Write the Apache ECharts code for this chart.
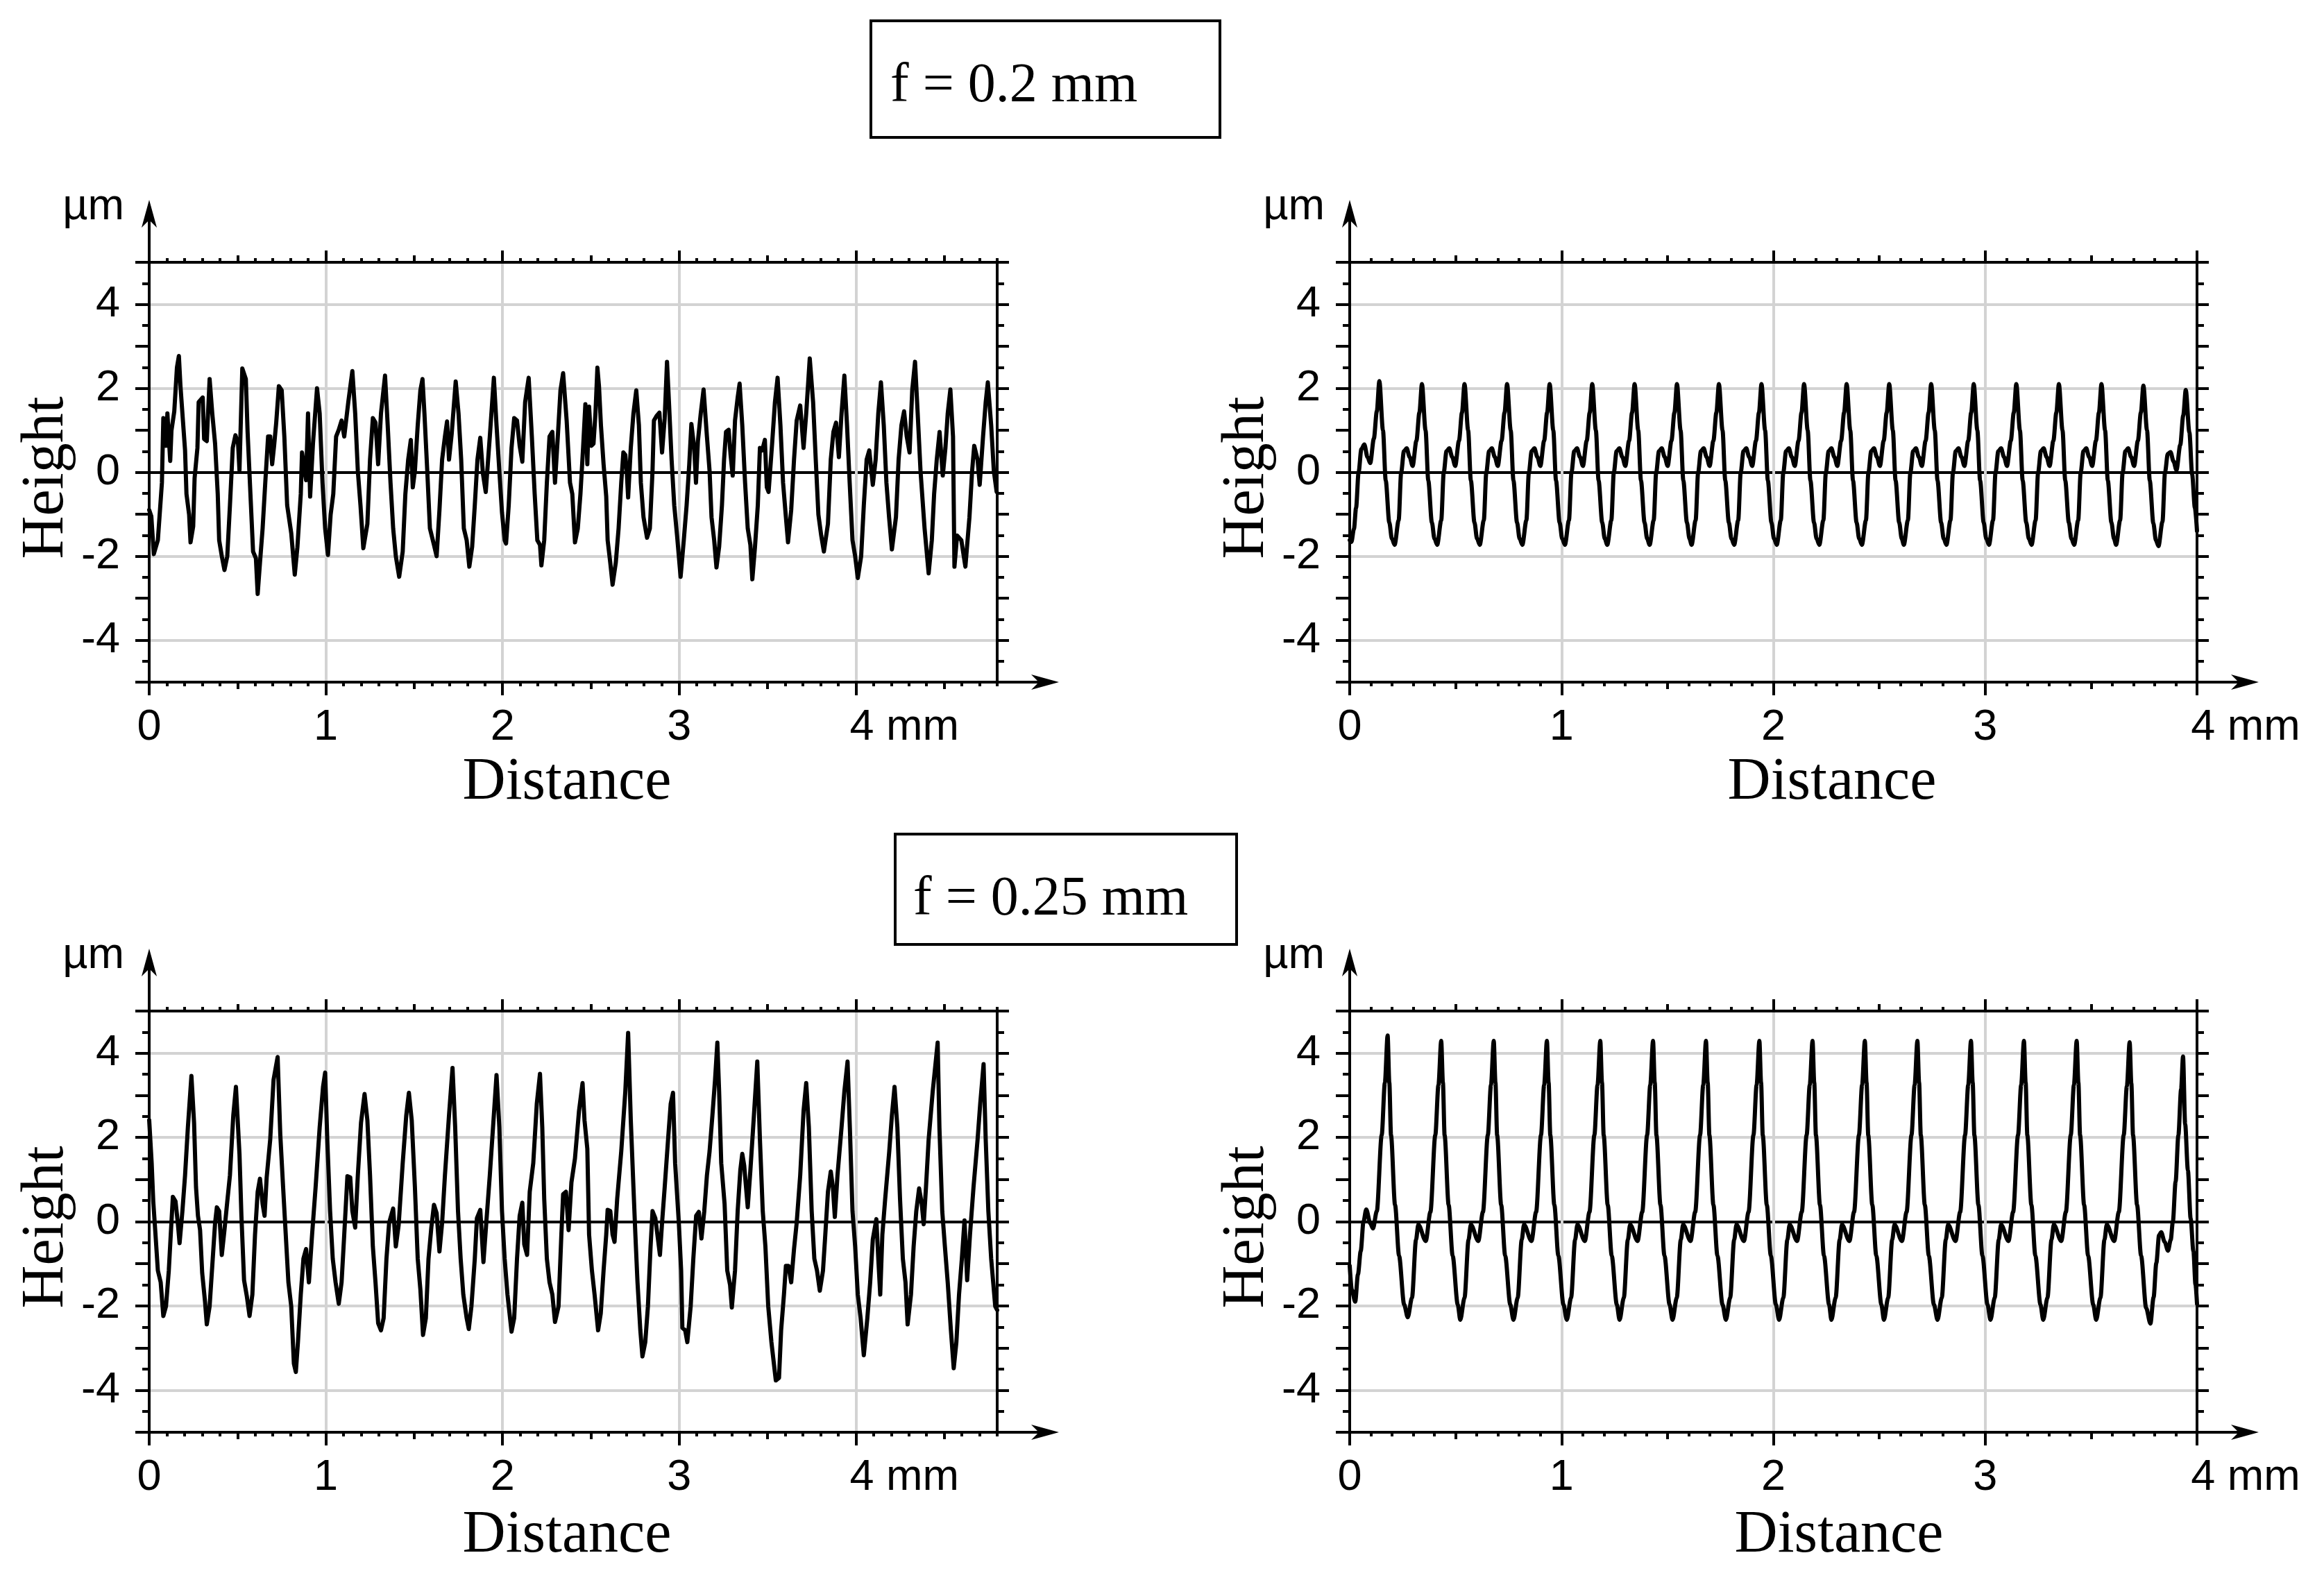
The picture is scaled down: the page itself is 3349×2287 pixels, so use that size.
<!DOCTYPE html>
<html>
<head>
<meta charset="utf-8">
<script src="https://cdn.jsdelivr.net/npm/echarts@6.0.0/dist/echarts.min.js"></script>
<style>
html,body{margin:0;padding:0;background:#fff;}
#c{width:3349px;height:2287px;}
</style>
</head>
<body>
<div id="c"></div>
<script>
// ---------------- data (x in mm, height in µm) ----------------
// f = 0.2 mm, measured profile (top left)
const tlData = [
[0,-0.90],[0.012,-1.05],[0.026,-1.95],[0.049,-1.62],[0.072,-0.25],[0.080,1.29],[0.095,0.63],[0.103,1.40],[0.119,0.27],[0.126,0.99],
[0.142,1.45],[0.157,2.49],[0.168,2.77],[0.177,2.05],[0.188,1.40],[0.203,0.52],[0.211,-0.52],[0.226,-1.01],[0.234,-1.67],[0.249,-1.29],
[0.257,-0.14],[0.273,0.58],[0.280,1.67],[0.303,1.78],[0.311,0.79],[0.326,0.74],[0.342,2.22],[0.357,1.40],[0.373,0.68],[0.388,-0.52],
[0.396,-1.62],[0.411,-2.00],[0.426,-2.33],[0.442,-2.00],[0.457,-0.79],[0.473,0.58],[0.488,0.88],[0.503,0.68],[0.511,0.05],[0.527,2.47],
[0.547,2.22],[0.557,0.96],[0.573,-0.52],[0.588,-1.89],[0.604,-2.05],[0.614,-2.90],[0.627,-2.16],[0.642,-1.34],[0.657,-0.25],[0.673,0.85],
[0.685,0.85],[0.696,0.19],[0.707,0.63],[0.719,1.18],[0.734,2.05],[0.750,1.95],[0.765,0.85],[0.781,-0.79],[0.804,-1.45],[0.824,-2.44],
[0.839,-1.78],[0.858,-0.52],[0.865,0.47],[0.888,-0.19],[0.899,1.40],[0.911,-0.58],[0.927,0.68],[0.950,2.00],[0.965,1.40],[0.981,-0.25],
[0.996,-1.34],[1.012,-1.97],[1.027,-1.01],[1.042,-0.52],[1.058,0.85],[1.073,1.01],[1.089,1.23],[1.104,0.85],[1.127,1.67],[1.150,2.41],
[1.166,1.40],[1.181,0.03],[1.196,-0.79],[1.212,-1.81],[1.235,-1.23],[1.250,0.30],[1.266,1.29],[1.281,1.18],[1.296,0.19],[1.312,1.40],
[1.335,2.30],[1.350,1.12],[1.366,-0.25],[1.381,-1.34],[1.396,-2.00],[1.415,-2.49],[1.435,-1.89],[1.450,-0.52],[1.466,0.30],[1.481,0.77],
[1.492,-0.36],[1.504,0.03],[1.520,1.12],[1.535,1.95],[1.547,2.22],[1.558,1.40],[1.574,0.03],[1.589,-1.34],[1.612,-1.73],[1.627,-2.00],
[1.643,-0.90],[1.658,0.30],[1.674,0.85],[1.686,1.21],[1.697,0.30],[1.712,0.90],[1.735,2.16],[1.751,1.40],[1.766,0.30],[1.781,-1.34],
[1.797,-1.62],[1.812,-2.25],[1.828,-1.78],[1.843,-0.79],[1.858,0.30],[1.874,0.82],[1.889,-0.03],[1.905,-0.47],[1.928,0.85],[1.951,2.25],
[1.966,1.12],[1.982,0.03],[1.997,-0.96],[2.012,-1.62],[2.020,-1.70],[2.035,-0.79],[2.051,0.58],[2.066,1.29],[2.082,1.23],[2.097,0.63],
[2.112,0.25],[2.128,1.67],[2.148,2.25],[2.166,0.85],[2.182,-0.52],[2.197,-1.62],[2.212,-1.73],[2.220,-2.22],[2.236,-1.62],[2.251,-0.25],
[2.266,0.85],[2.282,0.96],[2.297,-0.25],[2.313,0.85],[2.328,1.95],[2.343,2.36],[2.363,1.23],[2.382,-0.25],
[2.395,-0.52],[2.410,-1.67],[2.426,-1.34],[2.441,-0.52],[2.456,0.58],[2.469,1.62],[2.480,0.19],[2.490,1.56],[2.503,0.63],[2.515,0.68],
[2.526,1.40],[2.537,2.49],[2.546,2.05],[2.557,1.12],[2.572,0.19],[2.587,-0.58],[2.595,-1.62],[2.610,-2.16],[2.623,-2.68],[2.641,-2.16],
[2.657,-1.34],[2.672,-0.25],[2.684,0.47],[2.695,0.41],[2.703,0.03],[2.711,-0.60],[2.726,0.58],[2.741,1.40],[2.757,1.95],[2.772,1.12],
[2.783,-0.25],[2.798,-1.07],[2.818,-1.56],[2.834,-1.34],[2.849,0.03],[2.857,1.23],[2.872,1.34],[2.888,1.42],[2.903,0.47],[2.918,1.29],
[2.931,2.63],[2.942,1.67],[2.957,0.30],[2.972,-0.79],[2.988,-1.51],[3.008,-2.49],[3.026,-1.62],[3.042,-0.79],[3.057,0.19],[3.069,1.15],
[3.085,0.58],[3.095,-0.25],[3.106,0.74],[3.122,1.40],[3.138,1.97],[3.157,0.85],[3.172,0.03],[3.183,-1.07],[3.198,-1.62],[3.211,-2.27],
[3.226,-1.78],[3.242,-0.79],[3.254,0.30],[3.265,0.96],[3.280,1.01],[3.291,0.41],[3.303,-0.08],[3.316,1.23],[3.331,1.78],[3.342,2.11],
[3.357,1.12],[3.373,-0.25],[3.388,-1.34],[3.403,-1.73],[3.414,-2.55],[3.429,-1.78],[3.445,-0.79],[3.457,0.58],[3.470,0.52],[3.485,0.77],
[3.496,-0.36],[3.506,-0.47],[3.526,0.68],[3.542,1.67],[3.557,2.25],[3.573,1.12],[3.588,-0.25],[3.604,-1.07],[3.616,-1.67],[3.634,-0.90],
[3.650,0.30],[3.665,1.23],[3.685,1.59],[3.704,0.58],[3.719,1.40],[3.739,2.71],[3.758,1.67],[3.773,0.30],[3.788,-1.01],[3.804,-1.51],
[3.819,-1.89],[3.842,-1.23],[3.858,0.30],[3.873,0.96],[3.888,1.18],[3.904,0.36],[3.919,1.40],[3.935,2.30],[3.950,1.12],[3.965,-0.25],
[3.981,-1.62],[3.996,-2.00],[4.011,-2.52],[4.030,-2.00],[4.045,-0.79],[4.061,0.30],[4.076,0.52],[4.096,-0.30],[4.112,0.30],[4.127,1.40],
[4.142,2.14],[4.158,1.12],[4.173,-0.25],[4.188,-1.07],[4.204,-1.84],[4.227,-1.07],[4.242,0.30],[4.258,1.12],[4.273,1.45],[4.288,0.85],
[4.304,0.47],[4.319,1.95],[4.335,2.63],[4.350,1.40],[4.366,0.03],[4.389,-1.34],[4.412,-2.41],[4.430,-1.62],[4.443,-0.52],[4.458,0.30],
[4.474,0.96],[4.492,-0.08],[4.507,0.58],[4.520,1.40],[4.535,1.97],[4.550,0.85],[4.558,-2.25],[4.573,-1.51],[4.597,-1.62],[4.620,-2.25],
[4.643,-1.07],[4.658,0.03],[4.670,0.63],[4.689,0.30],[4.701,-0.30],[4.720,0.85],[4.735,1.67],[4.747,2.14],[4.766,1.12],[4.781,0.03],
[4.797,-0.47]
];

// f = 0.2 mm, simulated profile (top right)
const trData = [
[0,-1.62],[0.008,-1.66],[0.020,-1.35],[0.030,-0.85],[0.042,0.00],[0.055,0.55],[0.069,0.66],[0.084,0.36],[0.097,0.22],[0.114,0.80],[0.128,1.45],[0.140,2.17],[0.157,1.00],[0.170,-0.20],[0.187,-1.20],[0.199,-1.58],
[0.212,-1.73],[0.231,-1.15],[0.243,0],[0.256,0.50],[0.269,0.57],[0.283,0.36],[0.297,0.15],[0.315,0.75],[0.329,1.42],[0.341,2.10],[0.358,1.00],[0.371,-0.20],[0.388,-1.20],[0.400,-1.58],
[0.413,-1.73],[0.432,-1.15],[0.444,0],[0.457,0.50],[0.470,0.57],[0.484,0.36],[0.498,0.15],[0.516,0.75],[0.530,1.42],[0.542,2.10],[0.559,1.00],[0.572,-0.20],[0.589,-1.20],[0.601,-1.58],
[0.614,-1.73],[0.633,-1.15],[0.645,0],[0.658,0.50],[0.671,0.57],[0.685,0.36],[0.699,0.15],[0.717,0.75],[0.731,1.42],[0.743,2.10],[0.760,1.00],[0.773,-0.20],[0.790,-1.20],[0.802,-1.58],
[0.815,-1.73],[0.834,-1.15],[0.846,0],[0.859,0.50],[0.872,0.57],[0.886,0.36],[0.900,0.15],[0.918,0.75],[0.932,1.42],[0.944,2.10],[0.961,1.00],[0.974,-0.20],[0.991,-1.20],[1.003,-1.58],
[1.016,-1.73],[1.035,-1.15],[1.047,0],[1.060,0.50],[1.073,0.57],[1.087,0.36],[1.101,0.15],[1.119,0.75],[1.133,1.42],[1.145,2.10],[1.162,1.00],[1.175,-0.20],[1.192,-1.20],[1.204,-1.58],
[1.216,-1.73],[1.235,-1.15],[1.247,0],[1.260,0.50],[1.273,0.57],[1.287,0.36],[1.301,0.15],[1.319,0.75],[1.333,1.42],[1.345,2.10],[1.362,1.00],[1.375,-0.20],[1.392,-1.20],[1.404,-1.58],
[1.416,-1.73],[1.435,-1.15],[1.447,0],[1.460,0.50],[1.473,0.57],[1.487,0.36],[1.501,0.15],[1.519,0.75],[1.533,1.42],[1.545,2.10],[1.562,1.00],[1.575,-0.20],[1.592,-1.20],[1.604,-1.58],
[1.614,-1.73],[1.633,-1.15],[1.645,0],[1.658,0.50],[1.671,0.57],[1.685,0.36],[1.699,0.15],[1.717,0.75],[1.731,1.42],[1.743,2.10],[1.760,1.00],[1.773,-0.20],[1.790,-1.20],[1.802,-1.58],
[1.815,-1.73],[1.834,-1.15],[1.846,0],[1.859,0.50],[1.872,0.57],[1.886,0.36],[1.900,0.15],[1.918,0.75],[1.932,1.42],[1.944,2.10],[1.961,1.00],[1.974,-0.20],[1.991,-1.20],[2.003,-1.58],
[2.016,-1.73],[2.035,-1.15],[2.047,0],[2.060,0.50],[2.073,0.57],[2.087,0.36],[2.101,0.15],[2.119,0.75],[2.133,1.42],[2.145,2.10],[2.162,1.00],[2.175,-0.20],[2.192,-1.20],[2.204,-1.58],
[2.217,-1.73],[2.236,-1.15],[2.248,0],[2.261,0.50],[2.274,0.57],[2.288,0.36],[2.302,0.15],[2.320,0.75],[2.334,1.42],[2.346,2.10],[2.363,1.00],[2.376,-0.20],[2.393,-1.20],[2.405,-1.58],
[2.418,-1.73],[2.437,-1.15],[2.449,0],[2.462,0.50],[2.475,0.57],[2.489,0.36],[2.503,0.15],[2.521,0.75],[2.535,1.42],[2.547,2.10],[2.564,1.00],[2.577,-0.20],[2.594,-1.20],[2.606,-1.58],
[2.616,-1.73],[2.635,-1.15],[2.647,0],[2.660,0.50],[2.673,0.57],[2.687,0.36],[2.701,0.15],[2.719,0.75],[2.733,1.42],[2.745,2.10],[2.762,1.00],[2.775,-0.20],[2.792,-1.20],[2.804,-1.58],
[2.817,-1.73],[2.836,-1.15],[2.848,0],[2.861,0.50],[2.874,0.57],[2.888,0.36],[2.902,0.15],[2.920,0.75],[2.934,1.42],[2.946,2.10],[2.963,1.00],[2.976,-0.20],[2.993,-1.20],[3.005,-1.58],
[3.018,-1.73],[3.037,-1.15],[3.049,0],[3.062,0.50],[3.075,0.57],[3.089,0.36],[3.103,0.15],[3.121,0.75],[3.135,1.42],[3.147,2.10],[3.164,1.00],[3.177,-0.20],[3.194,-1.20],[3.206,-1.58],
[3.219,-1.73],[3.238,-1.15],[3.250,0],[3.263,0.50],[3.276,0.57],[3.290,0.36],[3.304,0.15],[3.322,0.75],[3.336,1.42],[3.348,2.10],[3.365,1.00],[3.378,-0.20],[3.395,-1.20],[3.407,-1.58],
[3.420,-1.73],[3.439,-1.15],[3.451,0],[3.464,0.50],[3.477,0.57],[3.491,0.36],[3.505,0.15],[3.523,0.75],[3.537,1.42],[3.549,2.10],[3.566,1.00],[3.579,-0.20],[3.596,-1.20],[3.608,-1.58],
[3.618,-1.73],[3.637,-1.15],[3.649,0],[3.662,0.50],[3.675,0.57],[3.689,0.36],[3.703,0.15],[3.721,0.75],[3.735,1.42],[3.747,2.06],[3.764,1.00],[3.777,-0.20],[3.794,-1.22],[3.806,-1.62],
[3.818,-1.76],[3.837,-1.18],[3.849,0],[3.862,0.44],[3.875,0.48],[3.889,0.26],[3.903,0.05],[3.921,0.65],[3.935,1.35],[3.947,1.96],[3.964,0.95],[3.977,-0.05],[3.990,-0.85],[4.000,-1.40]
];

// f = 0.25 mm, measured profile (bottom left)
const blData = [
[0,2.41],[0.014,1.39],[0.023,0.48],[0.034,-0.20],[0.049,-1.16],[0.065,-1.44],[0.080,-2.24],[0.095,-2.01],[0.111,-1.16],[0.122,-0.31],
[0.134,0.59],[0.149,0.48],[0.162,-0.03],[0.172,-0.51],[0.188,0.25],[0.203,1.10],[0.219,2.24],[0.239,3.46],[0.254,2.35],[0.265,0.82],
[0.276,0.14],[0.288,-0.20],[0.300,-1.22],[0.316,-1.90],[0.326,-2.44],[0.342,-2.01],[0.357,-1.05],[0.373,-0.03],[0.383,0.34],[0.396,0.25],
[0.411,-0.79],[0.426,-0.20],[0.442,0.48],[0.457,1.10],[0.476,2.52],[0.491,3.20],[0.511,1.61],[0.522,0.14],[0.537,-1.39],[0.553,-1.78],
[0.568,-2.24],[0.584,-1.73],[0.599,-0.31],[0.614,0.71],[0.627,1.02],[0.642,0.42],[0.653,0.14],[0.665,1.05],[0.685,1.95],[0.704,3.37],
[0.727,3.91],[0.742,2.07],[0.758,0.82],[0.773,-0.31],[0.788,-1.44],[0.804,-2.01],[0.819,-3.37],[0.830,-3.57],[0.842,-2.86],[0.858,-1.73],
[0.873,-0.88],[0.888,-0.65],[0.904,-1.44],[0.922,-0.31],[0.942,0.82],[0.965,2.24],[0.984,3.20],[0.996,3.54],[1.008,1.95],[1.024,0.25],
[1.039,-0.88],[1.055,-1.44],[1.073,-1.95],[1.089,-1.44],[1.104,-0.31],[1.122,1.08],[1.138,1.05],[1.150,0.25],[1.166,-0.14],[1.181,1.10],
[1.199,2.35],[1.219,3.03],[1.235,2.41],[1.250,1.10],[1.266,-0.59],[1.281,-1.44],[1.296,-2.41],[1.312,-2.58],[1.327,-2.29],[1.343,-0.88],
[1.358,-0.03],[1.381,0.31],[1.396,-0.59],[1.412,-0.08],[1.435,1.39],[1.455,2.52],[1.470,3.06],[1.486,2.41],[1.504,0.82],[1.520,-0.88],
[1.535,-1.61],[1.550,-2.69],[1.566,-2.29],[1.581,-0.88],[1.597,-0.14],[1.612,0.40],[1.627,0.20],[1.643,-0.71],[1.658,-0.03],[1.674,1.10],
[1.697,2.52],[1.717,3.65],[1.732,2.24],[1.748,0.25],[1.763,-0.88],[1.778,-1.73],[1.797,-2.29],[1.809,-2.55],[1.824,-2.01],[1.843,-0.88],
[1.855,0.08],[1.874,0.28],[1.892,-0.96],[1.908,-0.03],[1.928,1.10],[1.948,2.35],[1.966,3.48],[1.982,2.24],[1.997,0.25],[2.012,-0.88],
[2.028,-1.73],[2.051,-2.61],[2.066,-2.29],[2.082,-0.88],[2.097,0.14],[2.112,0.45],[2.123,-0.54],[2.139,-0.79],[2.154,0.71],[2.174,1.39],
[2.194,2.80],[2.212,3.51],[2.225,2.24],[2.236,0.54],[2.251,-0.88],[2.266,-1.44],[2.282,-1.73],[2.297,-2.38],[2.317,-2.01],[2.333,-0.31],
[2.343,0.65],[2.359,0.71],[2.374,-0.20],[2.390,0.93],
[2.410,1.50],[2.433,2.63],[2.453,3.29],[2.464,2.41],[2.480,1.73],[2.490,-0.31],[2.506,-1.16],[2.521,-1.73],[2.541,-2.58],[2.556,-2.18],
[2.572,-1.16],[2.587,-0.31],[2.595,0.28],[2.610,0.25],[2.623,-0.31],[2.634,-0.48],[2.649,0.54],[2.672,1.67],[2.695,3.09],[2.711,4.48],
[2.726,2.41],[2.741,0.82],[2.752,-0.31],[2.764,-1.44],[2.780,-2.58],[2.792,-3.20],[2.808,-2.86],[2.823,-2.01],[2.838,-0.59],[2.849,0.25],
[2.865,0.08],[2.880,-0.42],[2.891,-0.79],[2.903,-0.03],[2.918,0.82],[2.937,1.95],[2.952,2.80],[2.965,3.06],[2.977,1.39],[2.998,-0.03],
[3.011,-1.16],[3.018,-2.52],[3.034,-2.58],[3.046,-2.86],[3.065,-2.01],[3.080,-0.88],[3.096,0.14],[3.111,0.23],[3.126,-0.40],[3.142,0.25],
[3.157,1.10],[3.172,1.67],[3.188,2.52],[3.203,3.37],[3.216,4.25],[3.226,3.09],[3.238,1.39],[3.257,0.42],[3.272,-1.16],[3.288,-1.50],
[3.298,-2.04],[3.316,-1.16],[3.331,0.25],[3.346,1.22],[3.357,1.61],[3.368,1.33],[3.388,0.34],[3.403,1.22],[3.423,2.52],[3.442,3.80],
[3.457,1.95],[3.473,0.25],[3.488,-0.59],[3.504,-2.01],[3.522,-2.86],[3.547,-3.77],[3.565,-3.71],[3.577,-2.58],[3.593,-1.73],[3.604,-1.05],
[3.619,-1.05],[3.634,-1.44],[3.650,-0.65],[3.665,-0.03],[3.685,1.10],[3.704,2.63],[3.719,3.29],[3.734,2.24],[3.750,0.25],[3.765,-0.88],
[3.780,-1.16],[3.796,-1.64],[3.814,-1.16],[3.827,-0.31],[3.842,0.71],[3.858,1.19],[3.870,0.82],[3.881,0.11],[3.896,1.10],[3.919,2.24],
[3.935,3.09],[3.953,3.80],[3.966,2.24],[3.981,0.25],[3.996,-0.59],[4.011,-1.73],[4.027,-2.29],[4.045,-3.17],[4.065,-2.29],[4.081,-1.44],
[4.096,-0.42],[4.116,0.06],[4.127,-0.88],[4.138,-1.73],[4.150,-0.31],[4.166,0.54],[4.189,1.67],[4.204,2.52],[4.219,3.20],[4.235,2.24],
[4.250,0.54],[4.266,-0.88],[4.281,-1.44],[4.293,-2.44],[4.312,-1.73],[4.327,-0.59],[4.342,0.25],[4.358,0.79],[4.373,0.42],[4.384,-0.06],
[4.397,0.82],[4.412,1.95],[4.435,3.09],[4.463,4.25],[4.473,2.24],[4.489,0.25],[4.504,-0.59],[4.520,-1.44],[4.538,-2.58],[4.554,-3.48],
[4.569,-2.86],[4.584,-1.73],[4.600,-0.88],[4.615,0.03],[4.630,-1.39],[4.646,-0.31],[4.666,0.82],[4.689,1.95],[4.704,2.80],[4.723,3.74],
[4.735,1.95],[4.750,0.25],[4.766,-0.88],[4.789,-2.01],[4.800,-2.10]
];

// f = 0.25 mm, simulated profile (bottom right)
const brData = [
[0,-1.05],[0.010,-1.62],[0.026,-1.90],[0.039,-1.25],[0.052,-0.70],[0.065,0.00],[0.078,0.29],[0.097,-0.04],[0.110,-0.16],[0.128,0.25],[0.151,2.05],[0.166,3.30],[0.179,4.42],[0.187,3.30],[0.195,2.05],[0.214,0.40],[0.233,-0.81],[0.257,-1.97],
[0.274,-2.27],[0.294,-1.81],[0.313,-0.43],[0.324,-0.07],[0.359,-0.46],[0.381,0.23],[0.404,2.05],[0.419,3.25],[0.432,4.29],[0.440,3.30],[0.448,2.05],[0.467,0.40],[0.486,-0.81],[0.510,-1.97],
[0.522,-2.33],[0.542,-1.81],[0.561,-0.43],[0.572,-0.07],[0.607,-0.46],[0.629,0.23],[0.652,2.05],[0.667,3.25],[0.680,4.29],[0.688,3.30],[0.696,2.05],[0.715,0.40],[0.734,-0.81],[0.758,-1.97],
[0.773,-2.33],[0.793,-1.81],[0.812,-0.43],[0.823,-0.07],[0.858,-0.46],[0.880,0.23],[0.903,2.05],[0.918,3.25],[0.931,4.29],[0.939,3.30],[0.947,2.05],[0.966,0.40],[0.985,-0.81],[1.009,-1.97],
[1.025,-2.33],[1.045,-1.81],[1.064,-0.43],[1.075,-0.07],[1.110,-0.46],[1.132,0.23],[1.155,2.05],[1.170,3.25],[1.183,4.29],[1.191,3.30],[1.199,2.05],[1.218,0.40],[1.237,-0.81],[1.261,-1.97],
[1.274,-2.33],[1.294,-1.81],[1.313,-0.43],[1.324,-0.07],[1.359,-0.46],[1.381,0.23],[1.404,2.05],[1.419,3.25],[1.432,4.29],[1.440,3.30],[1.448,2.05],[1.467,0.40],[1.486,-0.81],[1.510,-1.97],
[1.524,-2.33],[1.544,-1.81],[1.563,-0.43],[1.574,-0.07],[1.609,-0.46],[1.631,0.23],[1.654,2.05],[1.669,3.25],[1.682,4.29],[1.690,3.30],[1.698,2.05],[1.717,0.40],[1.736,-0.81],[1.760,-1.97],
[1.776,-2.33],[1.796,-1.81],[1.815,-0.43],[1.826,-0.07],[1.861,-0.46],[1.883,0.23],[1.906,2.05],[1.921,3.25],[1.934,4.29],[1.942,3.30],[1.950,2.05],[1.969,0.40],[1.988,-0.81],[2.012,-1.97],
[2.027,-2.33],[2.047,-1.81],[2.066,-0.43],[2.077,-0.07],[2.112,-0.46],[2.134,0.23],[2.157,2.05],[2.172,3.25],[2.185,4.29],[2.193,3.30],[2.201,2.05],[2.220,0.40],[2.239,-0.81],[2.263,-1.97],
[2.274,-2.33],[2.294,-1.81],[2.313,-0.43],[2.324,-0.07],[2.359,-0.46],[2.381,0.23],[2.404,2.05],[2.419,3.25],[2.432,4.29],[2.440,3.30],[2.448,2.05],[2.467,0.40],[2.486,-0.81],[2.510,-1.97],
[2.522,-2.33],[2.542,-1.81],[2.561,-0.43],[2.572,-0.07],[2.607,-0.46],[2.629,0.23],[2.652,2.05],[2.667,3.25],[2.680,4.29],[2.688,3.30],[2.696,2.05],[2.715,0.40],[2.734,-0.81],[2.758,-1.97],
[2.775,-2.33],[2.795,-1.81],[2.814,-0.43],[2.825,-0.07],[2.860,-0.46],[2.882,0.23],[2.905,2.05],[2.920,3.25],[2.933,4.29],[2.941,3.30],[2.949,2.05],[2.968,0.40],[2.987,-0.81],[3.011,-1.97],
[3.025,-2.33],[3.045,-1.81],[3.064,-0.43],[3.075,-0.07],[3.110,-0.46],[3.132,0.23],[3.155,2.05],[3.170,3.25],[3.183,4.29],[3.191,3.30],[3.199,2.05],[3.218,0.40],[3.237,-0.81],[3.261,-1.97],
[3.274,-2.33],[3.294,-1.81],[3.313,-0.43],[3.324,-0.07],[3.359,-0.46],[3.381,0.23],[3.404,2.05],[3.419,3.25],[3.432,4.29],[3.440,3.30],[3.448,2.05],[3.467,0.40],[3.486,-0.81],[3.510,-1.97],
[3.524,-2.33],[3.544,-1.81],[3.563,-0.43],[3.574,-0.07],[3.609,-0.46],[3.631,0.23],[3.654,2.05],[3.669,3.22],[3.682,4.26],[3.690,3.28],[3.698,2.05],[3.717,0.40],[3.736,-0.81],[3.760,-2.05],
[3.780,-2.42],[3.795,-1.80],[3.808,-0.98],[3.821,-0.32],[3.831,-0.25],[3.847,-0.48],[3.863,-0.69],[3.876,-0.43],[3.886,0.00],[3.899,0.95],[3.912,2.05],[3.925,3.15],[3.934,3.92],[3.944,2.32],[3.957,1.22],[3.970,0.07],[3.983,-0.70],[3.993,-1.50],[4.000,-1.95]
];

// tick labels / texts
const xTickLabels = [0, 1, 2, 3, 4];
const yTickLabels = [-4, -2, 0, 2, 4];
const yGridValues = [-4, -2, 2, 4];
const boxTitles = ['f = 0.2 mm', 'f = 0.25 mm'];
const xTitle = 'Distance';
const yTitle = 'Height';
const yUnit = 'µm';
const xUnit = 'mm';

// ---------------- layout ----------------
const SANS = '"Liberation Sans", Arial, Helvetica, sans-serif';
const SERIF = '"Liberation Serif", "Times New Roman", Times, serif';
const FS = 63;
const BLACK = '#000000';
const GRAY = '#d3d3d3';

const panels = [
  {l:215,  t:378,  w:1222, h:605, xmax:4.8, data:tlData, smooth:false, dx:817,  dy:1128},
  {l:1945, t:378,  w:1221, h:605, xmax:4,   data:trData, smooth:0.3,   dx:2640, dy:1128},
  {l:215,  t:1457, w:1222, h:607, xmax:4.8, data:blData, smooth:false, dx:817,  dy:2213},
  {l:1945, t:1457, w:1221, h:607, xmax:4,   data:brData, smooth:0.3,   dx:2650, dy:2213}
];

function steps(a, b, step) {
  const out = [];
  const n = Math.floor((b - a) / step + 1e-9);
  for (let i = 0; i <= n; i++) out.push(Math.round((a + i * step) * 1000) / 1000);
  return out;
}

function tickAxis(gi, pos, min, max, ticks, len, showLine) {
  return {
    type: 'value', gridIndex: gi, position: pos, min: min, max: max, silent: true,
    axisLine: {show: !!showLine, onZero: false, lineStyle: {color: BLACK, width: 4, cap: 'square'}},
    axisTick: {show: true, inside: false, length: len, customValues: ticks, lineStyle: {color: BLACK, width: 4}},
    axisLabel: {show: false},
    splitLine: {show: false},
    splitArea: {show: false},
    axisPointer: {show: false}
  };
}
function gridAxis(gi, pos, min, max, vals, color) {
  return {
    type: 'value', gridIndex: gi, position: pos, min: min, max: max, silent: true,
    axisLine: {show: false, onZero: false},
    axisTick: {show: false, customValues: vals},
    axisLabel: {show: false},
    splitLine: {show: true, lineStyle: {color: color, width: 4}},
    splitArea: {show: false},
    axisPointer: {show: false}
  };
}
const richStyle = {
  p: {width: 140, fontFamily: SANS, fontSize: FS, color: BLACK},
  n: {fontFamily: SANS, fontSize: FS, color: BLACK},
  u: {fontFamily: SANS, fontSize: FS, color: BLACK}
};

const grids = [], xAxes = [], yAxes = [], series = [], graphics = [];

panels.forEach(function (p, gi) {
  grids.push({left: p.l, top: p.t, width: p.w, height: p.h, containLabel: false, outerBoundsMode: 'none', show: false});
  const xMajor = steps(0, Math.floor(p.xmax + 1e-9), 1);
  const xMed = steps(0.5, p.xmax, 1);
  const xMinor = steps(0, p.xmax, 0.1);
  const xGridV = xMajor.filter(function (v) { return v > 0 && v < p.xmax - 1e-9; });
  const yInt = steps(-5, 5, 1);
  const yHalf = steps(-4.5, 4.5, 1);

  // grid lines first (drawn underneath)
  xAxes.push(gridAxis(gi, 'bottom', 0, p.xmax, xGridV, GRAY));
  yAxes.push(gridAxis(gi, 'left', -5, 5, yGridValues, GRAY));
  yAxes.push(gridAxis(gi, 'left', -5, 5, [0], BLACK));

  // bottom x axis with labels (data axis)
  const dataX = xAxes.length;
  const xa = tickAxis(gi, 'bottom', 0, p.xmax, xMajor, 19, true);
  xa.axisLabel = {
    show: true, customValues: xTickLabels, margin: 34, color: BLACK, fontFamily: SANS, fontSize: FS,
    formatter: function (v) { return v === 4 ? '{p|\u00a0}{n|4}{u|\u00a0' + xUnit + '}' : '{n|' + v + '}'; },
    rich: richStyle
  };
  xAxes.push(xa);
  xAxes.push(tickAxis(gi, 'bottom', 0, p.xmax, xMed, 10, false));
  xAxes.push(tickAxis(gi, 'bottom', 0, p.xmax, xMinor, 6, false));
  // top frame
  xAxes.push(tickAxis(gi, 'top', 0, p.xmax, xMajor, 17, true));
  xAxes.push(tickAxis(gi, 'top', 0, p.xmax, xMed, 10, false));
  xAxes.push(tickAxis(gi, 'top', 0, p.xmax, xMinor, 6, false));

  // left y axis with labels (data axis)
  const dataY = yAxes.length;
  const ya = tickAxis(gi, 'left', -5, 5, yInt, 20, true);
  ya.axisLabel = {
    show: true, customValues: yTickLabels, margin: 42, color: BLACK, fontFamily: SANS, fontSize: FS,
    formatter: function (v) { return String(v); }
  };
  yAxes.push(ya);
  yAxes.push(tickAxis(gi, 'left', -5, 5, yHalf, 10, false));
  // right frame
  yAxes.push(tickAxis(gi, 'right', -5, 5, yInt, 17, true));
  yAxes.push(tickAxis(gi, 'right', -5, 5, yHalf, 10, false));

  series.push({
    type: 'line', xAxisIndex: dataX, yAxisIndex: dataY, data: p.data,
    showSymbol: false, symbol: 'none', smooth: p.smooth, smoothMonotone: 'x',
    lineStyle: {color: BLACK, width: 6, join: 'round', cap: 'round'},
    animation: false, silent: true, z: 5, clip: true
  });

  // axis arrows (extensions of the axis lines)
  const xr = p.l + p.w, yb = p.t + p.h;
  graphics.push({type: 'line', silent: true, shape: {x1: xr, y1: yb, x2: xr + 70, y2: yb}, style: {stroke: BLACK, lineWidth: 4}});
  graphics.push({type: 'polygon', silent: true, shape: {points: [[xr + 89, yb], [xr + 49, yb - 11], [xr + 60, yb], [xr + 49, yb + 11]]}, style: {fill: BLACK}});
  graphics.push({type: 'line', silent: true, shape: {x1: p.l, y1: p.t, x2: p.l, y2: p.t - 70}, style: {stroke: BLACK, lineWidth: 4}});
  graphics.push({type: 'polygon', silent: true, shape: {points: [[p.l, p.t - 90], [p.l - 11, p.t - 50], [p.l, p.t - 61], [p.l + 11, p.t - 50]]}, style: {fill: BLACK}});

  // unit label on the y axis
  graphics.push({type: 'text', silent: true, x: p.l - 36, y: p.t - 79,
    style: {text: yUnit, fill: BLACK, font: FS + 'px ' + SANS, align: 'right', textAlign: 'right', verticalAlign: 'middle', textVerticalAlign: 'middle'}});
  // axis titles
  graphics.push({type: 'text', silent: true, x: p.l - 148, y: p.t + p.h / 2 + 8, rotation: Math.PI / 2,
    style: {text: yTitle, fill: BLACK, font: '86px ' + SERIF, align: 'center', textAlign: 'center', verticalAlign: 'middle', textVerticalAlign: 'middle'}});
  graphics.push({type: 'text', silent: true, x: p.dx, y: p.dy,
    style: {text: xTitle, fill: BLACK, font: '86px ' + SERIF, align: 'center', textAlign: 'center', verticalAlign: 'middle', textVerticalAlign: 'middle'}});
});

// feed-rate boxes
const boxes = [
  {x: 1255, y: 30, w: 503, h: 168, tx: 1283, ty: 125},
  {x: 1290, y: 1202, w: 492, h: 159, tx: 1316, ty: 1297}
];
boxes.forEach(function (b, i) {
  graphics.push({type: 'rect', silent: true, shape: {x: b.x, y: b.y, width: b.w, height: b.h}, style: {fill: '#ffffff', stroke: BLACK, lineWidth: 4}});
  graphics.push({type: 'text', silent: true, x: b.tx, y: b.ty,
    style: {text: boxTitles[i], fill: BLACK, font: '80px ' + SERIF, align: 'left', textAlign: 'left', verticalAlign: 'middle', textVerticalAlign: 'middle'}});
});

const chart = echarts.init(document.getElementById('c'), null, {renderer: 'canvas', width: 3349, height: 2287});
chart.setOption({
  animation: false,
  backgroundColor: '#ffffff',
  grid: grids,
  xAxis: xAxes,
  yAxis: yAxes,
  series: series,
  graphic: {elements: graphics}
});
</script>
</body>
</html>
